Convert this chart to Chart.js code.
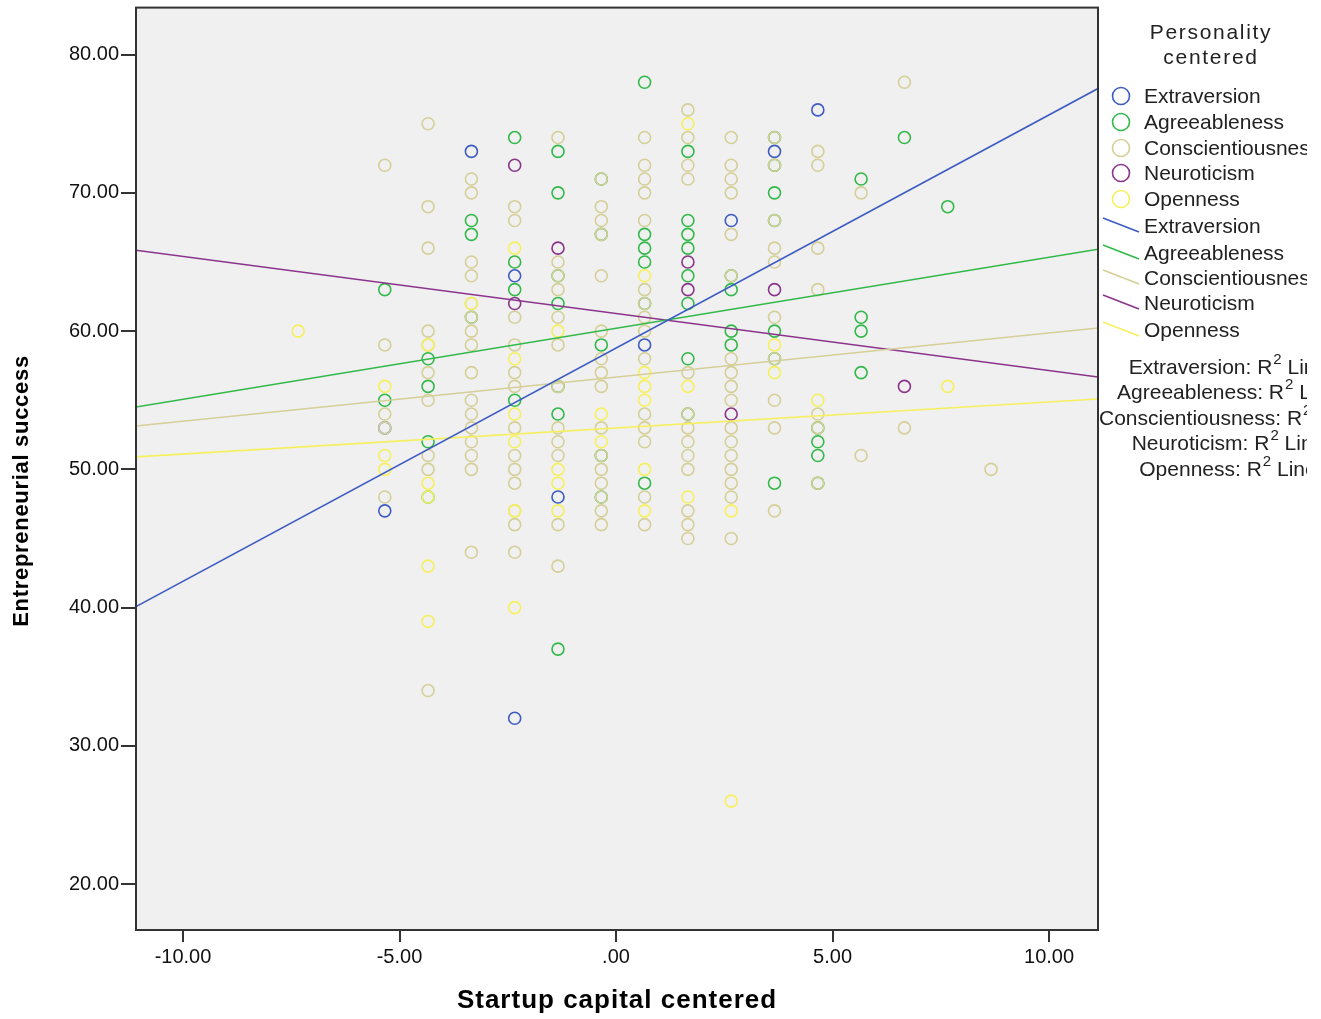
<!DOCTYPE html>
<html>
<head>
<meta charset="utf-8">
<script src="https://cdn.jsdelivr.net/npm/chart.js@4"></script>
<style>
  html, body { margin: 0; padding: 0; background: #fff; }
  canvas { display: block; }
</style>
</head>
<body>
<canvas id="grafica" width="1321" height="1019"></canvas>
<script>
// ejes
const xRango = [-11.085, 11.13];
const yRango = [16.68, 83.4];
const xTicks = [-10, -5, 0, 5, 10];
const yTicks = [20, 30, 40, 50, 60, 70, 80];

// categorias
const categorias = ['Extraversion', 'Agreeableness', 'Conscientiousness', 'Neuroticism', 'Openness'];
const colores = ['#3e5bc2', '#33b84a', '#d5cf98', '#8a348b', '#f6f05e'];

// puntos [x, y]
const extraversion = [[-5.34,47],[-5.34,53],[-3.34,73],[-2.34,64],[-2.34,32],[-1.34,48],[0.66,59],[2.66,68],[3.66,73],[4.66,76]];
const agreeableness = [[-5.34,63],[-5.34,55],[-4.34,58],[-4.34,56],[-4.34,52],[-4.34,48],[-3.34,68],[-3.34,67],[-3.34,61],
  [-2.34,74],[-2.34,65],[-2.34,63],[-2.34,55],[-1.34,73],[-1.34,70],[-1.34,64],[-1.34,62],[-1.34,54],[-1.34,37],[-1.34,56],
  [-0.34,71],[-0.34,67],[-0.34,59],[-0.34,51],[-0.34,48],[0.66,78],[0.66,67],[0.66,66],[0.66,65],[0.66,62],[0.66,49],
  [1.66,73],[1.66,68],[1.66,67],[1.66,66],[1.66,64],[1.66,62],[1.66,58],[1.66,54],[2.66,64],[2.66,63],[2.66,60],[2.66,59],
  [3.66,74],[3.66,72],[3.66,70],[3.66,68],[3.66,60],[3.66,58],[3.66,49],[4.66,53],[4.66,52],[4.66,51],[4.66,49],
  [5.66,71],[5.66,61],[5.66,60],[5.66,57],[6.66,74],[7.66,69]];
const conscientiousness = [
  [-5.34,72],[-5.34,59],[-5.34,54],[-5.34,53],[-5.34,48],
  [-4.34,75],[-4.34,69],[-4.34,66],[-4.34,60],[-4.34,59],[-4.34,57],[-4.34,55],[-4.34,51],[-4.34,50],[-4.34,34],
  [-3.34,71],[-3.34,70],[-3.34,65],[-3.34,64],[-3.34,62],[-3.34,61],[-3.34,60],[-3.34,59],[-3.34,57],[-3.34,55],[-3.34,54],[-3.34,53],[-3.34,52],[-3.34,51],[-3.34,50],[-3.34,44],
  [-2.34,69],[-2.34,68],[-2.34,61],[-2.34,59],[-2.34,57],[-2.34,56],[-2.34,53],[-2.34,51],[-2.34,50],[-2.34,49],[-2.34,47],[-2.34,46],[-2.34,44],
  [-1.34,74],[-1.34,65],[-1.34,64],[-1.34,63],[-1.34,61],[-1.34,59],[-1.34,56],[-1.34,53],[-1.34,52],[-1.34,51],[-1.34,46],[-1.34,43],
  [-0.34,71],[-0.34,69],[-0.34,68],[-0.34,67],[-0.34,64],[-0.34,60],[-0.34,58],[-0.34,57],[-0.34,56],[-0.34,53],[-0.34,51],[-0.34,50],[-0.34,49],[-0.34,48],[-0.34,47],[-0.34,46],
  [0.66,74],[0.66,72],[0.66,71],[0.66,70],[0.66,68],[0.66,63],[0.66,62],[0.66,61],[0.66,60],[0.66,58],[0.66,54],[0.66,53],[0.66,52],[0.66,48],[0.66,46],
  [1.66,76],[1.66,74],[1.66,72],[1.66,71],[1.66,57],[1.66,54],[1.66,53],[1.66,52],[1.66,51],[1.66,50],[1.66,47],[1.66,46],[1.66,45],
  [2.66,74],[2.66,72],[2.66,71],[2.66,70],[2.66,67],[2.66,64],[2.66,58],[2.66,57],[2.66,56],[2.66,55],[2.66,53],[2.66,52],[2.66,51],[2.66,50],[2.66,49],[2.66,48],[2.66,45],
  [3.66,74],[3.66,72],[3.66,68],[3.66,66],[3.66,65],[3.66,61],[3.66,58],[3.66,55],[3.66,53],[3.66,47],
  [4.66,73],[4.66,72],[4.66,66],[4.66,63],[4.66,54],[4.66,53],[4.66,49],
  [5.66,70],[5.66,51],[6.66,78],[6.66,53],[8.66,50]];
const neuroticism = [[-2.34,72],[-2.34,62],[-1.34,66],[1.66,65],[1.66,63],[2.66,54],[3.66,63],[6.66,56]];
const openness = [[-7.34,60],[-5.34,56],[-5.34,51],[-5.34,50],[-4.34,59],[-4.34,49],[-4.34,48],[-4.34,43],[-4.34,39],
  [-3.34,62],[-2.34,66],[-2.34,58],[-2.34,54],[-2.34,52],[-2.34,47],[-2.34,40],[-1.34,60],[-1.34,50],[-1.34,49],[-1.34,47],
  [-0.34,54],[-0.34,52],[0.66,64],[0.66,57],[0.66,56],[0.66,55],[0.66,50],[0.66,47],[1.66,75],[1.66,56],[1.66,48],
  [2.66,47],[2.66,26],[3.66,59],[3.66,57],[4.66,55],[7.66,56]];

// rectas de ajuste: valor en el borde izquierdo y derecho
const ajusteInicio = [40.07, 54.51, 53.14, 65.85, 50.90];
const ajusteFin = [77.55, 65.92, 60.22, 56.68, 55.09];
const r2Textos = ['0.083', '0.031', '0.014', '0.025', '0.007'];

const puntos = [extraversion, agreeableness, conscientiousness, neuroticism, openness];
const ordenPuntos = [5, 4, 3, 2, 1];

const fuente = '"Liberation Sans", Arial, sans-serif';

const datasets = [];
categorias.forEach((cat, i) => {
    datasets.push({
        type: 'line',
        label: cat + ' ajuste',
        data: [{ x: xRango[0], y: ajusteInicio[i] }, { x: xRango[1], y: ajusteFin[i] }],
        borderColor: colores[i],
        borderWidth: 1.6,
        pointRadius: 0,
        fill: false,
        order: 0
    });
    datasets.push({
        type: 'scatter',
        label: cat,
        data: puntos[i].map(p => ({ x: p[0], y: p[1] })),
        borderColor: colores[i],
        backgroundColor: 'rgba(0,0,0,0)',
        pointRadius: 6,
        pointBorderWidth: 1.6,
        order: ordenPuntos[i]
    });
});

const fondoYMarco = {
    id: 'fondoYMarco',
    beforeDraw(chart) {
        const { ctx, chartArea: a } = chart;
        ctx.save();
        ctx.fillStyle = '#f0f0f0';
        ctx.fillRect(a.left, a.top, a.right - a.left, a.bottom - a.top);
        ctx.restore();
    },
    afterDraw(chart) {
        const { ctx, chartArea: a } = chart;
        ctx.save();
        ctx.strokeStyle = '#333';
        ctx.lineWidth = 2;
        ctx.strokeRect(a.left, a.top, a.right - a.left, a.bottom - a.top);

        // titulos de ejes
        ctx.fillStyle = '#000';
        ctx.textAlign = 'center';
        ctx.textBaseline = 'middle';
        ctx.font = 'bold 26px ' + fuente;
        ctx.letterSpacing = '1px';
        ctx.fillText('Startup capital centered', (a.left + a.right) / 2, 1001);
        ctx.save();
        ctx.translate(22, 491);
        ctx.rotate(-Math.PI / 2);
        ctx.font = 'bold 22px ' + fuente;
        ctx.letterSpacing = '0.7px';
        ctx.fillText('Entrepreneurial success', 0, 0);
        ctx.restore();

        // leyenda
        ctx.beginPath();
        ctx.rect(a.right + 1, 0, 1307 - a.right - 1, chart.height);
        ctx.clip();
        ctx.font = '21px ' + fuente;
        ctx.fillStyle = '#222';
        ctx.letterSpacing = '1.7px';
        ctx.fillText('Personality', 1211, 33);
        ctx.fillText('centered', 1211, 58);
        ctx.letterSpacing = '0px';

        ctx.textAlign = 'left';
        const yMarca = [96, 122, 148, 173, 199];
        const yLinea = [226, 253, 278, 303, 330];
        const nombres = ['Extraversion', 'Agreeableness', 'Conscientiousness', 'Neuroticism', 'Openness'];
        categorias.forEach((cat, i) => {
            ctx.strokeStyle = colores[i];
            ctx.lineWidth = 1.6;
            ctx.beginPath();
            ctx.arc(1121, yMarca[i], 8.5, 0, Math.PI * 2);
            ctx.stroke();
            ctx.fillText(nombres[i], 1144, yMarca[i] + 1);
            ctx.beginPath();
            ctx.moveTo(1103, yLinea[i] - 8);
            ctx.lineTo(1139, yLinea[i] + 6);
            ctx.stroke();
            ctx.fillText(nombres[i], 1144, yLinea[i] + 1);
        });

        // textos R2 centrados
        const yR2 = [368, 393, 419, 444, 470];
        const partes = categorias.map((cat, i) => [cat + ': R', '2', ' Linear = ' + r2Textos[i]]);
        const ancho = p => {
            ctx.font = '21px ' + fuente;
            let w = ctx.measureText(p[0]).width + ctx.measureText(p[2]).width;
            ctx.font = '15px ' + fuente;
            return w + ctx.measureText(p[1]).width;
        };
        const centro = 1099 + ancho(partes[2]) / 2;
        partes.forEach((p, i) => {
            let x = centro - ancho(p) / 2;
            ctx.fillStyle = '#222';
            ctx.font = '21px ' + fuente;
            ctx.fillText(p[0], x, yR2[i]);
            x += ctx.measureText(p[0]).width + 1;
            ctx.font = '15px ' + fuente;
            ctx.fillText(p[1], x, yR2[i] - 8);
            x += ctx.measureText(p[1]).width;
            ctx.font = '21px ' + fuente;
            ctx.fillText(p[2], x, yR2[i]);
        });
        ctx.restore();
    }
};

const formato = v => (v === 0 ? '.00' : v.toFixed(2));

new Chart(document.getElementById('grafica').getContext('2d'), {
    data: { datasets },
    options: {
        responsive: false,
        animation: false,
        events: [],
        layout: { padding: { left: 0, right: 223, top: 6, bottom: 0 } },
        plugins: { legend: { display: false }, tooltip: { enabled: false } },
        scales: {
            x: {
                type: 'linear',
                min: xRango[0],
                max: xRango[1],
                afterBuildTicks: s => { s.ticks = xTicks.map(v => ({ value: v })); },
                afterFit: s => { s.height = 89; s.paddingLeft = 0; s.paddingRight = 0; },
                ticks: { callback: formato, color: '#111', font: { size: 20, family: fuente }, padding: 3, maxRotation: 0, autoSkip: false },
                grid: { drawOnChartArea: false, drawTicks: true, tickLength: 12, color: '#333', lineWidth: 2 },
                border: { display: true, color: '#333', width: 2 }
            },
            y: {
                type: 'linear',
                min: yRango[0],
                max: yRango[1],
                afterBuildTicks: s => { s.ticks = yTicks.map(v => ({ value: v })); },
                afterFit: s => { s.width = 136; s.paddingTop = 0; s.paddingBottom = 0; },
                ticks: { callback: formato, color: '#111', font: { size: 20, family: fuente }, padding: 2, autoSkip: false },
                grid: { drawOnChartArea: false, drawTicks: true, tickLength: 15, color: '#333', lineWidth: 2 },
                border: { display: true, color: '#333', width: 2 }
            }
        }
    },
    plugins: [fondoYMarco]
});
</script>
</body>
</html>
